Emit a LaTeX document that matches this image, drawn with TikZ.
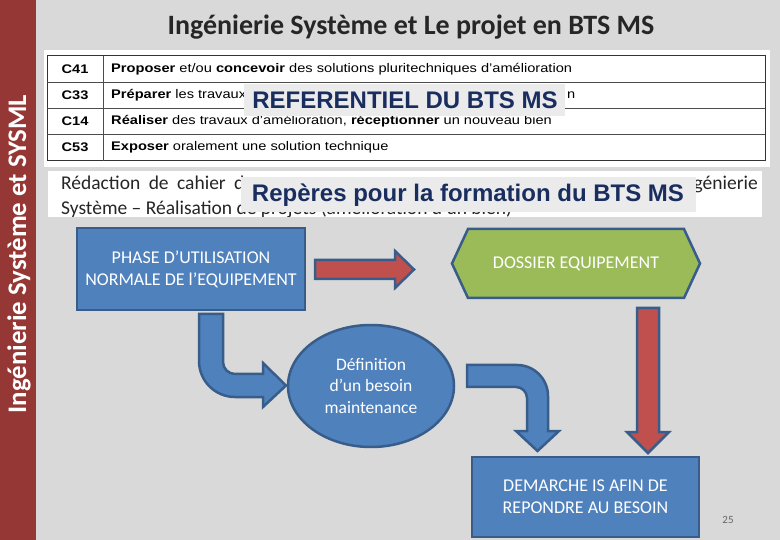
\documentclass[tikz,border=0pt]{standalone}
\usepackage{fontspec}
\setmainfont{Carlito}
\newfontfamily\arialf{Liberation Sans}
\newfontfamily\tabf[FakeStretch=1.17]{Liberation Sans}
\usetikzlibrary{shapes.geometric}
\definecolor{bgc}{HTML}{D9D9D9}
\definecolor{barred}{HTML}{953735}
\definecolor{boxblue}{HTML}{4F81BD}
\definecolor{edgeblue}{HTML}{385D8A}
\definecolor{arrred}{HTML}{C0504D}
\definecolor{boxgreen}{HTML}{9BBB59}
\definecolor{navy}{RGB}{25,45,95}
\definecolor{lab}{HTML}{EBEBEB}
\tikzset{
  blockbox/.style={draw=edgeblue, line width=2.5pt, fill=boxblue},
  flowtext/.style={text=white, font=\fontsize{18}{22}\selectfont, align=center},
  blockarrow/.style={draw=edgeblue, line width=2.5pt},
  labeltext/.style={text=navy, font=\arialf\bfseries\fontsize{24}{28}\selectfont, inner sep=0pt},
  tabtext/.style={anchor=west, font=\tabf\fontsize{12.5}{15}\selectfont, inner sep=0pt},
  codetext/.style={font=\tabf\bfseries\fontsize{12.5}{15}\selectfont, inner sep=0pt},
  striptext/.style={font=\fontsize{19.5}{22}\selectfont, inner sep=0pt, text=black!85}
}
\begin{document}
\begin{tikzpicture}[x=1pt,y=-1pt]
\useasboundingbox (0,0) rectangle (780,540);
\fill[bgc] (0,0) rectangle (780,540);
% side bar
\fill[barred] (0,0) rectangle (36,540);
\node[rotate=90, text=white, font=\bfseries\fontsize{26.8}{30}\selectfont] (side) at (19,254) {Ingénierie Système et SYSML};
% title
\node[font=\bfseries\fontsize{28}{32}\selectfont, text=black!85] (title) at (411,27) {Ingénierie Système et Le projet en BTS MS};
% table
\fill[white] (44,50) rectangle (770,167);
\draw[line width=1pt, black!80] (47,56) rectangle (765,161);
\foreach \yy in {82,108,134} \draw[line width=0.8pt, black!70] (47,\yy) -- (765,\yy);
\draw[line width=0.8pt, black!70] (103,56) -- (103,161);
\node[codetext] (c41) at (75,69) {C41};
\node[codetext] (c33) at (75,95) {C33};
\node[codetext] (c14) at (75,121) {C14};
\node[codetext] (c53) at (75,147.5) {C53};
\node[tabtext] (t41) at (111,69) {\textbf{Proposer} et/ou \textbf{concevoir} des solutions pluritechniques d’amélioration};
\node[tabtext] (t33) at (111,95) {\textbf{Préparer} les travaux};
\node[tabtext] (t33b) at (567,95) {n};
\node[tabtext] (t14) at (111,121) {\textbf{Réaliser} des travaux d’amélioration, \textbf{réceptionner} un nouveau bien};
\node[tabtext] (t53) at (111,147.5) {\textbf{Exposer} oralement une solution technique};
% strip
\fill[white] (48,171) rectangle (762,217);
\begin{scope}
\clip (48,171) rectangle (762,217);
\node[striptext, anchor=base west] (s1) at (61,190) {Rédaction\hspace{4pt} de\hspace{4pt} cahier\hspace{4pt} d};
\node[striptext, anchor=base east] (s1b) at (758,190) {génierie};
\node[striptext, anchor=base west] (s2) at (61,215) {Système – Réalisation de projets (amélioration d’un bien)};
\end{scope}
% overlay labels
\fill[lab] (244,84) rectangle (565,116);
\node[labeltext] (ref) at (405,100) {REFERENTIEL DU BTS MS};
\fill[lab] (241,177) rectangle (696,212);
\node[labeltext] (rep) at (468,195) {Repères pour la formation du BTS MS};
% flow boxes
\node[blockbox, flowtext, minimum width=228pt, minimum height=82pt] (phase) at (191,269) {PHASE D’UTILISATION\\NORMALE DE l’EQUIPEMENT};
\draw[blockarrow, fill=boxgreen] (452,263.5) -- (468,229) -- (684,229) -- (700,263.5) -- (684,298) -- (468,298) -- cycle;
\node[flowtext] (dossier) at (576,264) {DOSSIER EQUIPEMENT};
\node[blockbox, ellipse, flowtext, minimum width=166pt, minimum height=122pt, inner sep=0pt, font=\fontsize{17.5}{21.5}\selectfont] (besoin) at (371,386) {Définition\\d’un besoin\\maintenance};
\node[blockbox, flowtext, minimum width=227pt, minimum height=80pt] (demarche) at (585.5,497) {DEMARCHE IS AFIN DE\\REPONDRE AU BESOIN};
% red arrows
\draw[blockarrow, fill=arrred] (315,260) -- (395,260) -- (395,251) -- (414,269.5) -- (395,288) -- (395,279) -- (315,279) -- cycle;
\draw[blockarrow, fill=arrred] (637,308) -- (659,308) -- (659,432) -- (669,432) -- (648,453) -- (627,432) -- (637,432) -- cycle;
% blue bent arrows
\draw[blockarrow, fill=boxblue] (199,314) -- (223,314) -- (223,362) .. controls (223,368.6) and (228.4,374) .. (235,374) -- (263,374) -- (263,363) -- (286,385.5) -- (263,407) -- (263,397) -- (235,397) .. controls (215.1,397) and (199,380.9) .. (199,361) -- cycle;
\draw[blockarrow, fill=boxblue] (467,365) -- (517,365) .. controls (534.1,365) and (548,378.9) .. (548,396) -- (548,431) -- (559,431) -- (537.5,451) -- (516,431) -- (527,431) -- (527,398) .. controls (527,391.9) and (522.1,387) .. (516,387) -- (467,387) -- cycle;
% page number
\node[text=black!60, font=\fontsize{11}{13}\selectfont] (pg) at (728,520) {25};
\end{tikzpicture}
\end{document}
